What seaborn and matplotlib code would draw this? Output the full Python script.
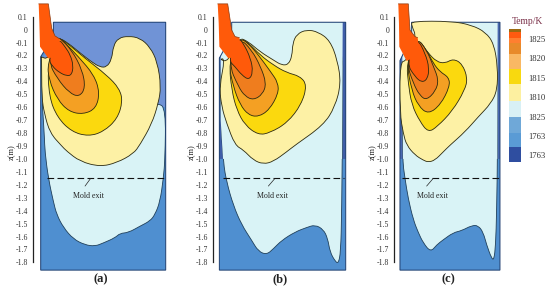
import matplotlib
matplotlib.use("Agg")
import matplotlib.pyplot as plt
from matplotlib.patches import PathPatch
from matplotlib.path import Path
import seaborn as sns

# z ticks
z_ticks = [0.1, 0, -0.1, -0.2, -0.3, -0.4, -0.5, -0.6, -0.7, -0.8, -0.9, -1.0,
           -1.1, -1.2, -1.3, -1.4, -1.5, -1.6, -1.7, -1.8]
z_labels = ["0.1", "0", "-0.1", "-0.2", "-0.3", "-0.4", "-0.5", "-0.6", "-0.7", "-0.8", "-0.9",
            "-1.0", "-1.1", "-1.2", "-1.3", "-1.4", "-1.5", "-1.6", "-1.7", "-1.8"]
mold_exit_z = -1.15
legend_labels = ["1825", "1820", "1815", "1810", "1825", "1763", "1763"]

# panel a
a_mold_x = [160, 497, 497, 122, 122, 160]
a_mold_z = [0.057, 0.057, -1.86, -1.86, -0.21, -0.05]
a_upper_x = [160, 497, 497, 130, 130, 160]
a_upper_z = [0.057, 0.057, -0.60, -0.60, -0.21, -0.05]
a_cyan_x = [125, 130, 133, 135, 145, 160, 170, 190, 220, 255, 285, 310, 345, 360, 385, 420, 450, 465, 480, 490, 495, 497, 475, 300, 200]
a_cyan_z = [-0.5, -0.7, -0.83, -0.95, -1.15, -1.33, -1.43, -1.53, -1.62, -1.665, -1.675, -1.65, -1.61, -1.575, -1.57, -1.52, -1.48, -1.43, -1.33, -1.15, -1.0, -0.62, -0.56, -0.6, -0.5]
a_pale_x = [122, 125, 125, 133, 150, 185, 200, 240, 300, 350, 400, 420, 455, 475, 483, 472, 450, 420, 385, 355, 340, 335, 320, 300, 275, 240, 205, 175, 145]
a_pale_z = [-0.21, -0.21, -0.52, -0.65, -0.80, -0.90, -0.94, -1.02, -1.06, -1.03, -0.96, -0.89, -0.73, -0.57, -0.44, -0.25, -0.135, -0.065, -0.05, -0.065, -0.125, -0.23, -0.29, -0.29, -0.25, -0.18, -0.105, -0.06, -0.23]
a_yellow_x = [175, 190, 255, 320, 358, 368, 352, 310, 265, 215, 172, 147, 143]
a_yellow_z = [-0.067, -0.08, -0.222, -0.351, -0.455, -0.555, -0.690, -0.790, -0.825, -0.790, -0.680, -0.519, -0.261]
a_orange_x = [175, 185, 235, 282, 299, 288, 250, 207, 172, 147, 142]
a_orange_z = [-0.067, -0.075, -0.209, -0.351, -0.485, -0.610, -0.655, -0.635, -0.540, -0.390, -0.261]
a_deep_x = [175, 180, 215, 247, 256, 238, 208, 172, 145]
a_deep_z = [-0.067, -0.067, -0.158, -0.313, -0.450, -0.520, -0.490, -0.380, -0.248]
a_hot_x = [175, 195, 211, 220, 215, 200, 178, 158, 145]
a_hot_z = [-0.067, -0.132, -0.196, -0.280, -0.350, -0.358, -0.332, -0.287, -0.230]
a_nozzle_x = [116, 145, 155, 165, 178, 185, 145, 120, 118]
a_nozzle_z = [0.199, 0.199, 0.010, -0.049, -0.070, -0.2, -0.222, -0.132, 0.05]

# panel b
b_mold_x = [155, 497, 497, 118, 118, 155]
b_mold_z = [0.057, 0.057, -1.86, -1.86, -0.22, -0.05]
b_upper_x = [155, 497, 497, 118, 118, 155]
b_upper_z = [0.057, 0.057, -1.0, -1.0, -0.22, -0.05]
b_top_x = [155, 488, 486, 129, 122, 122]
b_top_z = [0.057, 0.057, -1.0, -1.0, -0.7, -0.2]
b_cyan_x = [120, 122, 130, 140, 160, 185, 215, 235, 260, 280, 305, 345, 380, 405, 430, 443, 450, 465, 475, 482, 485, 488, 488, 155]
b_cyan_z = [-0.22, -0.7, -1.03, -1.18, -1.36, -1.51, -1.63, -1.715, -1.74, -1.695, -1.63, -1.565, -1.53, -1.51, -1.545, -1.615, -1.72, -1.79, -1.81, -1.72, -1.41, -0.6, 0.03, 0.057]
b_pale_x = [118, 135, 118, 125, 140, 165, 190, 220, 250, 280, 320, 345, 430, 465, 483, 472, 450, 415, 380, 350, 338, 336, 325, 305, 280, 240, 205, 175, 145]
b_pale_z = [-0.23, -0.222, -0.442, -0.597, -0.726, -0.894, -0.93, -1.01, -1.04, -1.02, -0.945, -0.894, -0.739, -0.597, -0.416, -0.235, -0.085, -0.018, 0.0, -0.035, -0.106, -0.205, -0.27, -0.275, -0.235, -0.171, -0.093, -0.059, -0.25]
b_yellow_x = [147, 155, 170, 195, 235, 270, 322, 364, 381, 360, 320, 280, 240, 205, 180]
b_yellow_z = [-0.261, -0.468, -0.620, -0.740, -0.815, -0.798, -0.720, -0.580, -0.429, -0.360, -0.333, -0.274, -0.196, -0.101, -0.067]
b_orange_x = [145, 160, 180, 205, 235, 268, 295, 294, 272, 235, 205, 178]
b_orange_z = [-0.261, -0.442, -0.580, -0.660, -0.675, -0.620, -0.495, -0.410, -0.326, -0.196, -0.106, -0.062]
b_deep_x = [145, 175, 195, 220, 248, 259, 242, 215, 178]
b_deep_z = [-0.261, -0.442, -0.515, -0.545, -0.500, -0.416, -0.287, -0.158, -0.062]
b_hot_x = [145, 165, 185, 207, 219, 212, 190, 175]
b_hot_z = [-0.235, -0.287, -0.351, -0.390, -0.330, -0.222, -0.106, -0.062]
b_nozzle_x = [113, 143, 155, 165, 178, 185, 145, 118, 116]
b_nozzle_z = [0.199, 0.199, -0.003, -0.054, -0.062, -0.2, -0.222, -0.132, 0.05]

# panel c
c_mold_x = [140, 405, 405, 105, 105, 140]
c_mold_z = [0.057, 0.057, -1.86, -1.86, -0.24, -0.05]
c_upper_x = [140, 405, 405, 105, 105, 140]
c_upper_z = [0.057, 0.057, -1.0, -1.0, -0.24, -0.05]
c_top_x = [140, 398, 397, 114, 112]
c_top_z = [0.057, 0.057, -1.0, -1.0, -0.2]
c_cyan_x = [112, 112, 120, 130, 145, 160, 175, 197, 215, 235, 265, 290, 320, 340, 355, 365, 380, 387, 392, 395, 398, 398, 140]
c_cyan_z = [-0.24, -1.0, -1.15, -1.31, -1.47, -1.57, -1.65, -1.72, -1.665, -1.625, -1.57, -1.555, -1.515, -1.515, -1.57, -1.665, -1.77, -1.78, -1.665, -1.41, -0.9, 0.03, 0.057]
c_pale_x = [125, 105, 105, 115, 125, 150, 175, 190, 210, 235, 255, 300, 340, 378, 397, 398, 387, 362, 320, 260, 140, 140, 155]
c_pale_z = [-0.243, -0.248, -0.649, -0.804, -0.894, -0.97, -1.01, -1.025, -1.01, -0.945, -0.894, -0.791, -0.674, -0.571, -0.468, -0.287, -0.11, -0.02, 0.035, 0.065, 0.065, 0.03, -0.059]
c_yellow_x = [125, 130, 140, 165, 190, 217, 262, 299, 308, 292, 265, 240, 215, 190, 155]
c_yellow_z = [-0.261, -0.416, -0.580, -0.712, -0.795, -0.750, -0.630, -0.470, -0.377, -0.265, -0.225, -0.261, -0.248, -0.183, -0.059]
c_orange_x = [125, 140, 160, 190, 227, 254, 252, 225, 205, 185, 155]
c_orange_z = [-0.261, -0.468, -0.590, -0.655, -0.580, -0.442, -0.370, -0.326, -0.261, -0.158, -0.059]
c_deep_x = [125, 145, 165, 185, 212, 221, 206, 185, 155]
c_deep_z = [-0.261, -0.416, -0.512, -0.545, -0.475, -0.390, -0.287, -0.158, -0.059]
c_hot_x = [125, 150, 170, 187, 193, 181, 155]
c_hot_z = [-0.261, -0.364, -0.408, -0.385, -0.300, -0.183, -0.059]
c_nozzle_x = [100, 130, 135, 150, 158, 165, 125, 103, 102]
c_nozzle_z = [0.199, 0.199, -0.003, -0.054, -0.062, -0.19, -0.243, -0.132, 0.05]

# legend bands, top to bottom
legend_heights = [9, 20, 20, 35, 52, 52, 56, 54, 53, 50, 50]
legend_colors = ["#9c6a10", "#ff5a10", "#ff7f30", "#e88a2a", "#f9b864", "#f8d90f",
                 "#fdf0a0", "#d8f0f5", "#6fa8d8", "#5a9bd5", "#2f4ea0"]

sns.set_theme(style="white")
plt.rcParams["font.family"] = ["Liberation Serif", "DejaVu Serif"]

BLUE = "#4f8fd0"
CYAN = "#d9f3f6"
PALE = "#fdf1a5"
YELLOW = "#fbd90e"
ORANGE = "#f4a023"
DEEP = "#ef7d1e"
HOT = "#ff5a0a"
EDGE = "#2b2a10"
Z_LOW, Z_HIGH = -2.006, 0.229
FIG_W, FIG_H = 550, 289

fig = plt.figure(figsize=(5.5, 2.89), dpi=100)


def smooth_fill(ax, x, z, fc, ec="none", lw=0.6):
    # closed quadratic curve with the read points as control points
    n = len(x)
    mid = [((x[i] + x[(i + 1) % n]) / 2, (z[i] + z[(i + 1) % n]) / 2) for i in range(n)]
    verts = [mid[-1]]
    codes = [Path.MOVETO]
    for i in range(n):
        verts += [(x[i], z[i]), mid[i]]
        codes += [Path.CURVE3, Path.CURVE3]
    ax.add_patch(PathPatch(Path(verts, codes), fc=fc, ec=ec, lw=lw))


def draw_panel(left_px, x0, x1, mold, upper, upper_colour, top, cyan, pale, yellow, orange, deep, hot, nozzle,
               exit_x, leader, note_x, tag, tag_x):
    width_px = (x1 - x0) / 3
    ax = fig.add_axes([left_px / FIG_W, 0, width_px / FIG_W, 1])
    ax.patch.set_alpha(0)
    ax.set_xlim(x0, x1)
    ax.set_ylim(Z_LOW, Z_HIGH)
    ax.fill(mold[0], mold[1], color=BLUE, lw=0)
    ax.fill(upper[0], upper[1], color=upper_colour, lw=0)
    smooth_fill(ax, cyan[0], cyan[1], CYAN, ec="#1f3f5a", lw=0.6)
    if top is not None:
        ax.fill(top[0], top[1], color=CYAN, lw=0)
    ax.fill(mold[0], mold[1], fc="none", ec="#1f3f70", lw=0.7)
    for shape, colour in [(pale, PALE), (yellow, YELLOW), (orange, ORANGE), (deep, DEEP), (hot, HOT)]:
        smooth_fill(ax, shape[0], shape[1], colour, ec=EDGE)
    ax.fill(nozzle[0], nozzle[1], color=HOT, lw=0)
    sns.lineplot(x=nozzle[0][:5], y=nozzle[1][:5], sort=False, estimator=None, color="#8a3a10", lw=0.5, ax=ax)
    sns.lineplot(x=exit_x, y=[mold_exit_z, mold_exit_z], color="#111111", lw=0.8,
                 linestyle=(0, (6, 3)), ax=ax)
    sns.lineplot(x=leader, y=[mold_exit_z, -1.21], sort=False, estimator=None,
                 color="#222222", lw=0.5, ax=ax)
    ax.text(note_x, -1.29, "Mold exit", fontsize=5.7, ha="center", va="center", color="#222222")
    ax.text(tag_x, -1.929, tag, fontsize=9, fontweight="bold", ha="center", va="center", color="#222222")
    ax.text(x0 - 63, -0.947, "z(m)", fontsize=6, rotation=90, ha="center", va="center", color="#222222")
    ax.set_xticks([])
    ax.set_yticks(z_ticks)
    ax.set_yticklabels(z_labels, fontsize=5.6, color="#333333")
    ax.tick_params(axis="y", length=0, pad=3.5)
    for name in ["top", "right", "bottom"]:
        ax.spines[name].set_visible(False)
    ax.spines["left"].set_bounds(-1.8, 0.1)
    ax.spines["left"].set_color("#222222")
    ax.spines["left"].set_linewidth(0.9)
    return ax


draw_panel(32.7, 98, 550, (a_mold_x, a_mold_z), (a_upper_x, a_upper_z), "#7093d6", None, (a_cyan_x, a_cyan_z),
           (a_pale_x, a_pale_z), (a_yellow_x, a_yellow_z), (a_orange_x, a_orange_z), (a_deep_x, a_deep_z),
           (a_hot_x, a_hot_z), (a_nozzle_x, a_nozzle_z), [140, 497], [272, 255], 264, "(a)", 303)
draw_panel(212.7, 98, 550, (b_mold_x, b_mold_z), (b_upper_x, b_upper_z), "#3f5da8", (b_top_x, b_top_z), (b_cyan_x, b_cyan_z),
           (b_pale_x, b_pale_z), (b_yellow_x, b_yellow_z), (b_orange_x, b_orange_z), (b_deep_x, b_deep_z),
           (b_hot_x, b_hot_z), (b_nozzle_x, b_nozzle_z), [130, 492], [285, 265], 276, "(b)", 300)
draw_panel(394.3, 88, 421, (c_mold_x, c_mold_z), (c_upper_x, c_upper_z), "#4a68b0", (c_top_x, c_top_z), (c_cyan_x, c_cyan_z),
           (c_pale_x, c_pale_z), (c_yellow_x, c_yellow_z), (c_orange_x, c_orange_z), (c_deep_x, c_deep_z),
           (c_hot_x, c_hot_z), (c_nozzle_x, c_nozzle_z), [112, 403], [205, 185], 203, "(c)", 250)

# legend colour bar
lax = fig.add_axes([509 / FIG_W, 1 - 162 / FIG_H, 12 / FIG_W, 133 / FIG_H])
lax.set_xlim(0, 1)
lax.set_ylim(sum(legend_heights), 0)
bottom = 0
for h, colour in zip(legend_heights, legend_colors):
    lax.bar(0.5, h, width=1, bottom=bottom, color=colour, lw=0)
    bottom += h
lax.axis("off")
label_ys = [40, 59, 79, 98, 118, 137, 156]
for label, y_px in zip(legend_labels, label_ys):
    fig.text(528 / FIG_W, 1 - y_px / FIG_H, label, fontsize=6.2, va="center", color="#333333")
fig.text(527 / FIG_W, 1 - 21 / FIG_H, "Temp/K", fontsize=6.9, ha="center", va="center", color="#7a3048")

fig.savefig("out.png", dpi=100)
